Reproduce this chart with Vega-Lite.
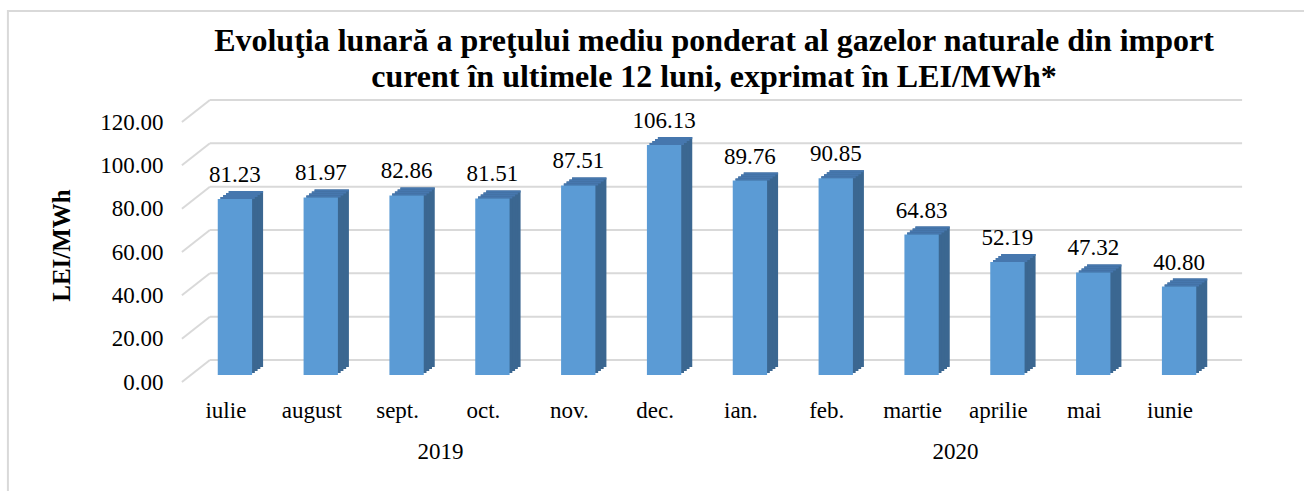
{
  "$schema": "https://vega.github.io/schema/vega-lite/v6.json",
  "autosize": {"type": "none"},
  "width": 1030,
  "height": 260,
  "padding": {"left": 192, "top": 115, "right": 82, "bottom": 116},
  "background": "white",
  "config": {
    "view": {"stroke": null},
    "font": "Liberation Serif",
    "axis": {"domain": false, "ticks": false, "grid": false, "labelFont": "Liberation Serif", "labelFontSize": 23, "labelColor": "black", "titleFont": "Liberation Serif", "titleColor": "black"},
    "axisX": {"labelAngle": 0, "labelPadding": 24, "labelOffset": -9},
    "axisY": {"labelPadding": 29, "labelOffset": 7, "titleFontSize": 25, "titleFontWeight": "bold", "titlePadding": 25}
  },
  "title": {
    "text": ["Evoluţia lunară a preţului mediu ponderat al gazelor naturale din import", "curent în ultimele 12 luni, exprimat în LEI/MWh*"],
    "font": "Liberation Serif", "fontSize": 32, "fontWeight": "bold", "color": "black",
    "anchor": "middle", "lineHeight": 36, "offset": -84, "dx": 7
  },
  "datasets": {
    "prices": [
      {"month": "iulie", "year": "2019", "price": 81.23},
      {"month": "august", "year": "2019", "price": 81.97},
      {"month": "sept.", "year": "2019", "price": 82.86},
      {"month": "oct.", "year": "2019", "price": 81.51},
      {"month": "nov.", "year": "2019", "price": 87.51},
      {"month": "dec.", "year": "2019", "price": 106.13},
      {"month": "ian.", "year": "2020", "price": 89.76},
      {"month": "feb.", "year": "2020", "price": 90.85},
      {"month": "martie", "year": "2020", "price": 64.83},
      {"month": "aprilie", "year": "2020", "price": 52.19},
      {"month": "mai", "year": "2020", "price": 47.32},
      {"month": "iunie", "year": "2020", "price": 40.80}
    ],
    "grid": [{"g": 0}, {"g": 20}, {"g": 40}, {"g": 60}, {"g": 80}, {"g": 100}, {"g": 120}],
    "years": [{"month": "sept.", "year": "2019", "base": 0}, {"month": "martie", "year": "2020", "base": 0}]
  },
  "data": {"name": "prices"},
  "encoding": {
    "x": {"field": "month", "type": "nominal", "scale": {"domain": ["iulie","august","sept.","oct.","nov.","dec.","ian.","feb.","martie","aprilie","mai","iunie"], "paddingInner": 0.6, "paddingOuter": 0.3}, "axis": {"title": null}},
    "y": {"field": "price", "type": "quantitative", "scale": {"domain": [0, 120], "nice": false, "zero": true}, "axis": {"values": [0, 20, 40, 60, 80, 100, 120], "format": ".2f", "title": "LEI/MWh"}}
  },
  "layer": [
    {
      "data": {"name": "grid"},
      "transform": [{"filter": "datum.g == 120"}],
      "mark": {"type": "rect", "fill": null, "stroke": "#d9d9d9", "strokeWidth": 2, "xOffset": -227, "x2Offset": 300, "yOffset": -104, "y2Offset": 300},
      "encoding": {
        "x": {"datum": "iulie", "type": "nominal", "axis": {"title": null}},
        "x2": {"datum": "iunie"},
        "y": {"field": "g", "type": "quantitative", "axis": {"values": [0, 20, 40, 60, 80, 100, 120], "format": ".2f", "title": "LEI/MWh"}},
        "y2": {"datum": 0}
      }
    },
    {
      "data": {"name": "grid"},
      "mark": {"type": "rule", "color": "#d9d9d9", "strokeWidth": 2, "xOffset": -25, "x2Offset": 63, "yOffset": -15, "y2Offset": -15},
      "encoding": {
        "x": {"datum": "iulie", "type": "nominal", "axis": {"title": null}},
        "x2": {"datum": "iunie"},
        "y": {"field": "g", "type": "quantitative", "axis": {"values": [0, 20, 40, 60, 80, 100, 120], "format": ".2f", "title": "LEI/MWh"}},
        "y2": {"field": "g"}
      }
    },
    {
      "data": {"name": "grid"},
      "mark": {"type": "rule", "color": "#d9d9d9", "strokeWidth": 2, "xOffset": -53, "x2Offset": -25, "yOffset": 7, "y2Offset": -15},
      "encoding": {
        "x": {"datum": "iulie", "type": "nominal", "axis": {"title": null}},
        "x2": {"datum": "iulie"},
        "y": {"field": "g", "type": "quantitative", "axis": {"values": [0, 20, 40, 60, 80, 100, 120], "format": ".2f", "title": "LEI/MWh"}},
        "y2": {"field": "g"}
      }
    },
    {"mark": {"type": "bar", "color": "#3b6791", "xOffset": 11, "yOffset": -8, "y2Offset": -8}},
    {"mark": {"type": "bar", "color": "#3b6791", "xOffset": 8.25, "yOffset": -6, "y2Offset": -6}},
    {"mark": {"type": "bar", "color": "#3b6791", "xOffset": 5.5, "yOffset": -4, "y2Offset": -4}},
    {"mark": {"type": "bar", "color": "#3b6791", "xOffset": 2.75, "yOffset": -2, "y2Offset": -2}},
    {"mark": {"type": "bar", "color": "#4677ae", "xOffset": 11, "yOffset": -8, "y2Offset": -6}, "encoding": {"y2": {"field": "price"}}},
    {"mark": {"type": "bar", "color": "#4677ae", "xOffset": 8.25, "yOffset": -6, "y2Offset": -4}, "encoding": {"y2": {"field": "price"}}},
    {"mark": {"type": "bar", "color": "#4677ae", "xOffset": 5.5, "yOffset": -4, "y2Offset": -2}, "encoding": {"y2": {"field": "price"}}},
    {"mark": {"type": "bar", "color": "#4677ae", "xOffset": 2.75, "yOffset": -2, "y2Offset": 0}, "encoding": {"y2": {"field": "price"}}},
    {"mark": {"type": "bar", "color": "#5b9bd5"}},
    {
      "mark": {"type": "text", "font": "Liberation Serif", "fontSize": 23, "color": "black", "baseline": "alphabetic", "dy": -17},
      "encoding": {"text": {"field": "price", "type": "quantitative", "format": ".2f"}}
    },
    {
      "data": {"name": "years"},
      "mark": {"type": "text", "font": "Liberation Serif", "fontSize": 23, "color": "black", "baseline": "alphabetic", "dx": 34, "dy": 84},
      "encoding": {
        "y": {"field": "base", "type": "quantitative", "axis": {"values": [0, 20, 40, 60, 80, 100, 120], "format": ".2f", "title": "LEI/MWh"}},
        "text": {"field": "year", "type": "nominal"}
      }
    }
  ]
}
